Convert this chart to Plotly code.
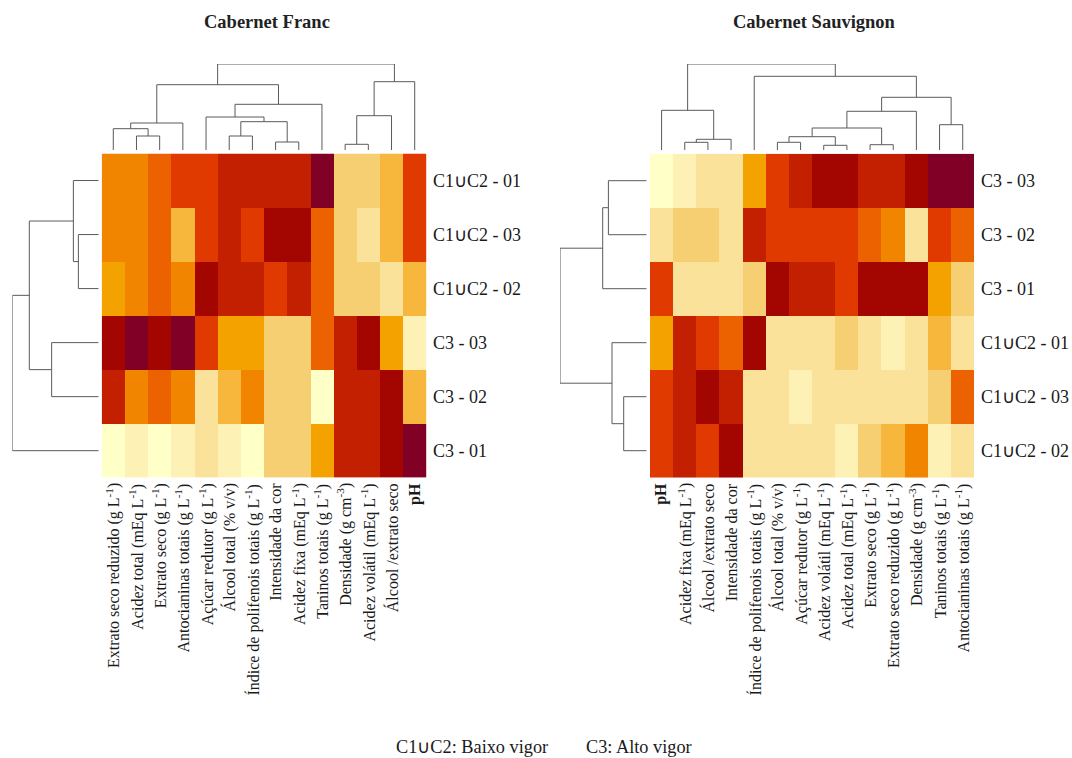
import plotly.graph_objects as go

W, H = 1072, 758
FONT = "Liberation Serif, Times New Roman, serif"

# ---------------- data ----------------
# colour levels: 0 = lightest ... 11 = darkest
levels_colors = ["#FFFFC8", "#FEF1B5", "#FAE29A", "#F6CF72", "#F6B73C", "#F4A200",
                 "#F28500", "#EC6100", "#E03A00", "#C22000", "#A30600", "#800026"]

cf_cols = ["Extrato seco reduzido (g L<sup>-1</sup>)", "Acidez total (mEq L<sup>-1</sup>)",
           "Extrato seco (g L<sup>-1</sup>)", "Antocianinas totais (g L<sup>-1</sup>)",
           "Açúcar redutor (g L<sup>-1</sup>)", "Álcool total (% v/v)",
           "Índice de polifenois totais (g L<sup>-1</sup>)", "Intensidade da cor",
           "Acidez fixa (mEq L<sup>-1</sup>)", "Taninos totais (g L<sup>-1</sup>)",
           "Densidade (g cm<sup>-3</sup>)", "Acidez volátil (mEq L<sup>-1</sup>)",
           "Álcool /extrato seco", "<b>pH</b>"]
cf_rows = ["C1∪C2 - 01", "C1∪C2 - 03", "C1∪C2 - 02", "C3 - 03", "C3 - 02", "C3 - 01"]
cf_z = [
    [6, 6, 7, 8, 8, 9, 9, 9, 9, 11, 3, 3, 4, 8],
    [6, 6, 7, 4, 8, 9, 8, 10, 10, 7, 3, 2, 4, 8],
    [5, 6, 7, 6, 10, 9, 9, 8, 9, 7, 3, 3, 2, 4],
    [10, 11, 10, 11, 8, 5, 5, 3, 3, 7, 9, 10, 5, 1],
    [9, 6, 7, 6, 2, 4, 6, 3, 3, 0, 9, 9, 10, 4],
    [0, 1, 0, 1, 2, 1, 0, 3, 3, 5, 9, 9, 10, 11],
]
# linkage merges (a, b, height); leaves 0..n-1 in display order, clusters n+k
cf_col_merges = [(1, 2, 1.40), (0, 14, 2.13), (15, 3, 2.70), (5, 6, 1.40), (7, 8, 0.80),
                 (17, 18, 2.83), (4, 19, 3.30), (20, 9, 4.57), (16, 21, 6.53),
                 (10, 11, 0.57), (23, 12, 3.43), (24, 13, 6.83), (22, 25, 8.60)]
cf_row_merges = [(1, 2, 2.03), (0, 6, 2.53), (3, 4, 4.70), (7, 8, 6.93), (9, 5, 8.63)]

cs_cols = ["<b>pH</b>", "Acidez fixa (mEq L<sup>-1</sup>)", "Álcool /extrato seco",
           "Intensidade da cor", "Índice de polifenois totais (g L<sup>-1</sup>)",
           "Álcool total (% v/v)", "Açúcar redutor (g L<sup>-1</sup>)",
           "Acidez volátil (mEq L<sup>-1</sup>)", "Acidez total (mEq L<sup>-1</sup>)",
           "Extrato seco (g L<sup>-1</sup>)", "Extrato seco reduzido (g L<sup>-1</sup>)",
           "Densidade (g cm<sup>-3</sup>)", "Taninos totais (g L<sup>-1</sup>)",
           "Antocianinas totais (g L<sup>-1</sup>)"]
cs_rows = ["C3 - 03", "C3 - 02", "C3 - 01", "C1∪C2 - 01", "C1∪C2 - 03", "C1∪C2 - 02"]
cs_z = [
    [0, 1, 2, 2, 5, 8, 9, 10, 10, 9, 9, 10, 11, 11],
    [2, 3, 3, 2, 9, 8, 8, 8, 8, 7, 6, 2, 8, 7],
    [8, 2, 2, 2, 3, 10, 9, 9, 8, 10, 10, 10, 5, 3],
    [5, 9, 8, 7, 10, 2, 2, 2, 3, 2, 1, 2, 4, 2],
    [8, 9, 10, 9, 2, 2, 1, 2, 2, 2, 2, 2, 3, 7],
    [8, 9, 8, 10, 2, 2, 2, 2, 1, 3, 4, 6, 1, 2],
]
cs_col_merges = [(1, 2, 0.77), (14, 3, 1.07), (0, 15, 3.97), (5, 6, 0.77), (7, 8, 0.47),
                 (17, 18, 1.33), (9, 10, 0.53), (19, 20, 2.20), (21, 11, 3.87),
                 (12, 13, 2.53), (22, 23, 5.27), (4, 24, 7.37), (16, 25, 8.60)]
cs_row_merges = [(0, 1, 3.83), (6, 2, 4.40), (4, 5, 2.30), (3, 8, 3.47), (7, 9, 8.67)]

titles = ["Cabernet Franc", "Cabernet Sauvignon"]
legend_texts = ["C1∪C2: Baixo vigor", "C3: Alto vigor"]

# ---------------- helpers ----------------
def px(x):
    return x / W

def py(y):
    return 1 - y / H

def dendro(merges, n):
    pos = {i: float(i) for i in range(n)}
    hgt = {i: 0.0 for i in range(n)}
    ps, hs = [], []
    for k, (a, b, h) in enumerate(merges):
        pa, pb = pos[a], pos[b]
        ps += [pa, pa, pb, pb, None]
        hs += [hgt[a], h, h, hgt[b], None]
        pos[n + k] = (pa + pb) / 2
        hgt[n + k] = h
    return ps, hs

colorscale = []
nl = len(levels_colors)
for i, c in enumerate(levels_colors):
    colorscale.append([i / nl, c])
    colorscale.append([(i + 1) / nl, c])

fig = go.Figure()
annotations = []
hidden = dict(showgrid=False, zeroline=False, showticklabels=False, ticks="", showline=False)

panels = [
    dict(z=cf_z, cols=cf_cols, rows=cf_rows, cm=cf_col_merges, rm=cf_row_merges,
         hx=(101.7, 426.3), hy=(153.5, 477.7), rdx=(12.3, 98.7), cdy=(64.0, 150.0),
         title=titles[0], tx=267),
    dict(z=cs_z, cols=cs_cols, rows=cs_rows, cm=cs_col_merges, rm=cs_row_merges,
         hx=(650.0, 974.3), hy=(153.7, 477.7), rdx=(560.0, 646.7), cdy=(64.0, 150.0),
         title=titles[1], tx=814),
]

layout_axes = {}
for pi, p in enumerate(panels):
    b = pi * 3
    hx_name, hy_name = f"x{b+1}", f"y{b+1}"
    cx_name, cy_name = f"x{b+2}", f"y{b+2}"
    rx_name, ry_name = f"x{b+3}", f"y{b+3}"
    ncol, nrow = len(p["cols"]), len(p["rows"])

    fig.add_trace(go.Heatmap(z=p["z"], x=list(range(ncol)), y=list(range(nrow)),
                             colorscale=colorscale, zmin=-0.5, zmax=nl - 0.5,
                             showscale=False, xaxis=hx_name, yaxis=hy_name,
                             hoverinfo="skip"))
    # column dendrogram
    cp, ch = dendro(p["cm"], ncol)
    fig.add_trace(go.Scatter(x=cp, y=ch, mode="lines", line=dict(color="#5a5a5a", width=1),
                             xaxis=cx_name, yaxis=cy_name, hoverinfo="skip", showlegend=False))
    # row dendrogram
    rp, rh = dendro(p["rm"], nrow)
    fig.add_trace(go.Scatter(x=rh, y=rp, mode="lines", line=dict(color="#5a5a5a", width=1),
                             xaxis=rx_name, yaxis=ry_name, hoverinfo="skip", showlegend=False))

    hxd = [px(p["hx"][0]), px(p["hx"][1])]
    hyd = [py(p["hy"][1]), py(p["hy"][0])]
    croot = p["cm"][-1][2]
    rroot = p["rm"][-1][2]

    def key(name, axis):
        n = name[1:]
        return f"{axis}axis" + ("" if n == "1" else n)

    layout_axes[key(hx_name, "x")] = dict(domain=hxd, range=[-0.5, ncol - 0.5], anchor=hy_name, **hidden)
    layout_axes[key(hy_name, "y")] = dict(domain=hyd, range=[nrow - 0.5, -0.5], anchor=hx_name, **hidden)
    layout_axes[key(cx_name, "x")] = dict(domain=hxd, range=[-0.5, ncol - 0.5], anchor=cy_name, **hidden)
    layout_axes[key(cy_name, "y")] = dict(domain=[py(p["cdy"][1]), py(p["cdy"][0])],
                                          range=[0, croot], anchor=cx_name, **hidden)
    layout_axes[key(rx_name, "x")] = dict(domain=[px(p["rdx"][0]), px(p["rdx"][1])],
                                          range=[rroot, 0], anchor=ry_name, **hidden)
    layout_axes[key(ry_name, "y")] = dict(domain=hyd, range=[nrow - 0.5, -0.5], anchor=rx_name, **hidden)

    # column labels
    for i, lab in enumerate(p["cols"]):
        annotations.append(dict(text=lab, x=i, xref=hx_name, y=py(p["hy"][1] + 3.5), yref="paper",
                                xanchor="center", yanchor="top", textangle=-90, showarrow=False,
                                font=dict(family=FONT, size=16, color="#1a1a1a")))
    # row labels
    for j, lab in enumerate(p["rows"]):
        annotations.append(dict(text=lab, x=px(p["hx"][1] + 5), xref="paper", y=j, yref=hy_name,
                                xanchor="left", yanchor="middle", showarrow=False,
                                font=dict(family=FONT, size=18, color="#1a1a1a")))
    annotations.append(dict(text=f"<b>{p['title']}</b>", x=px(p["tx"]), y=py(22), xref="paper",
                            yref="paper", xanchor="center", yanchor="middle", showarrow=False,
                            font=dict(family=FONT, size=18.5, color="#222222")))

annotations.append(dict(text=legend_texts[0], x=px(550), y=py(747), xref="paper", yref="paper",
                        xanchor="right", yanchor="middle", showarrow=False,
                        font=dict(family=FONT, size=18.3, color="#1a1a1a")))
annotations.append(dict(text=legend_texts[1], x=px(584), y=py(747), xref="paper", yref="paper",
                        xanchor="left", yanchor="middle", showarrow=False,
                        font=dict(family=FONT, size=18.3, color="#1a1a1a")))

fig.update_layout(width=W, height=H, margin=dict(l=0, r=0, t=0, b=0),
                  paper_bgcolor="white", plot_bgcolor="white", showlegend=False,
                  annotations=annotations, **layout_axes)

fig.write_html("out.html")
